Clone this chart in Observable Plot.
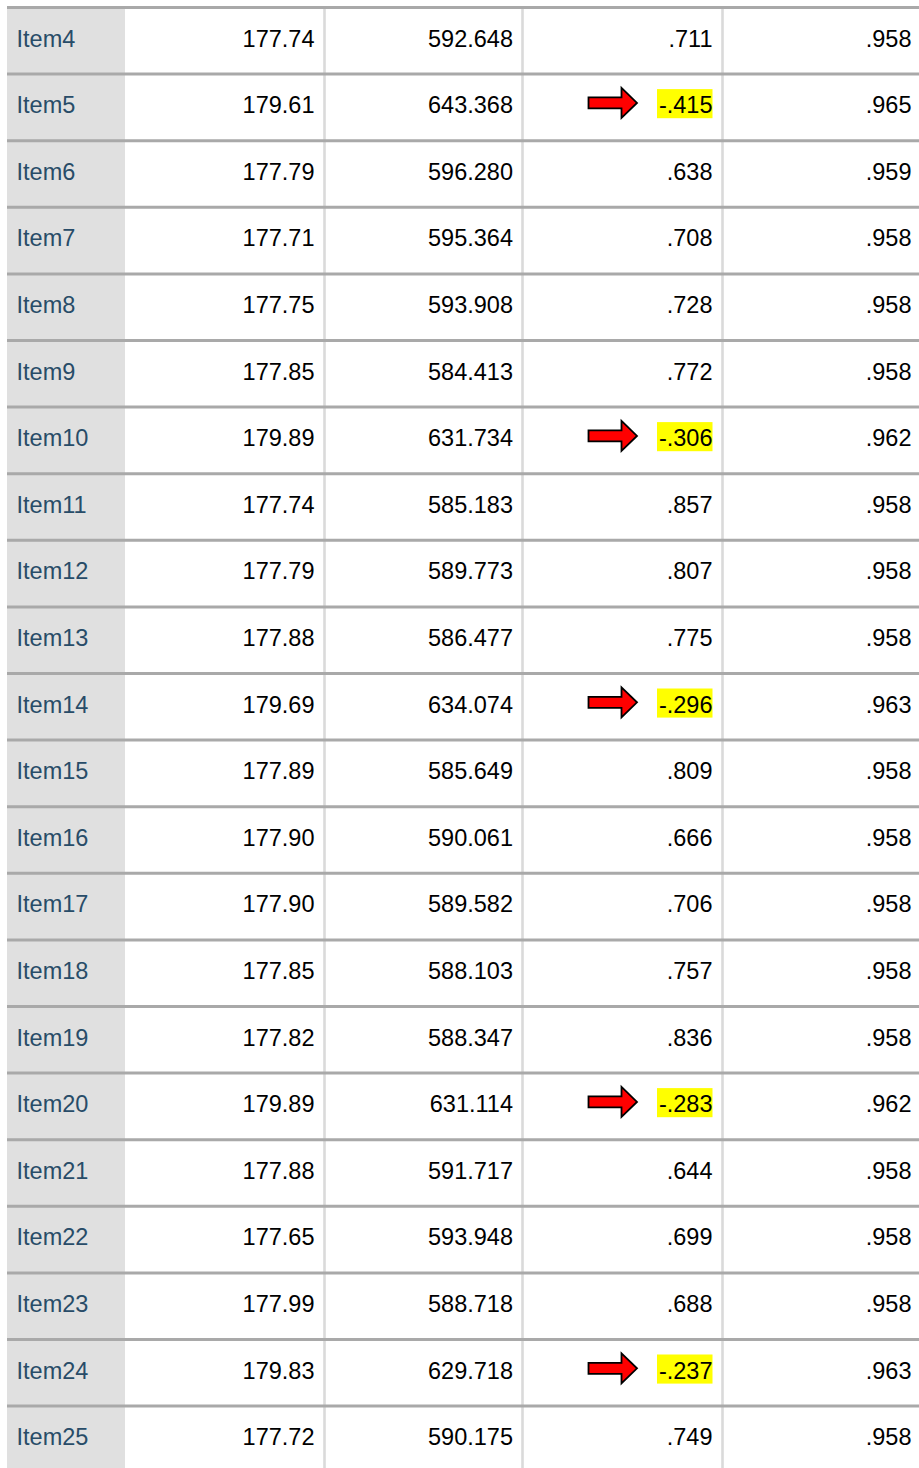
<!DOCTYPE html>
<html>
<head>
<meta charset="utf-8">
<script src="https://cdn.jsdelivr.net/npm/d3@7"></script>
<script src="https://cdn.jsdelivr.net/npm/@observablehq/plot@0.6"></script>
<style>
  html, body { margin: 0; padding: 0; background: #fff; }
  #chart svg { display: block; }
</style>
</head>
<body>
<div id="chart"></div>
<script>
// ---- data ----
const items = ["Item4","Item5","Item6","Item7","Item8","Item9","Item10","Item11","Item12","Item13","Item14","Item15","Item16","Item17","Item18","Item19","Item20","Item21","Item22","Item23","Item24","Item25"];
const scaleMeanIfDeleted = [177.74,179.61,177.79,177.71,177.75,177.85,179.89,177.74,177.79,177.88,179.69,177.89,177.90,177.90,177.85,177.82,179.89,177.88,177.65,177.99,179.83,177.72];
const scaleVarianceIfDeleted = [592.648,643.368,596.280,595.364,593.908,584.413,631.734,585.183,589.773,586.477,634.074,585.649,590.061,589.582,588.103,588.347,631.114,591.717,593.948,588.718,629.718,590.175];
const correctedItemTotal = [0.711,-0.415,0.638,0.708,0.728,0.772,-0.306,0.857,0.807,0.775,-0.296,0.809,0.666,0.706,0.757,0.836,-0.283,0.644,0.699,0.688,-0.237,0.749];
const alphaIfDeleted = [0.958,0.965,0.959,0.958,0.958,0.958,0.962,0.958,0.958,0.958,0.963,0.958,0.958,0.958,0.958,0.958,0.962,0.958,0.958,0.958,0.963,0.958];

// ---- layout ----
const W = 919, H = 1468;
const top0 = 7, rowH = 66.6;
const colLines = [324, 522, 722];
const colRight = [314, 512.5, 712, 911];
const labelX = 16;
const fontFamily = "'Liberation Sans', Arial, sans-serif";

const spss = v => v.toFixed(3).replace(/^(-?)0\./, "$1.");
const rows = items.map((name, i) => ({
  i, name,
  c1: scaleMeanIfDeleted[i].toFixed(2),
  c2: scaleVarianceIfDeleted[i].toFixed(3),
  c3: spss(correctedItemTotal[i]),
  c4: spss(alphaIfDeleted[i]),
  neg: correctedItemTotal[i] < 0
}));
const negRows = rows.filter(d => d.neg);

const arrowSymbol = {
  draw(ctx) {
    ctx.moveTo(-24, -5.5);
    ctx.lineTo(9, -5.5);
    ctx.lineTo(9, -15);
    ctx.lineTo(24.5, 0);
    ctx.lineTo(9, 15);
    ctx.lineTo(9, 5.5);
    ctx.lineTo(-24, 5.5);
    ctx.closePath();
  }
};

const textCommon = {fontSize: 23.5, fontFamily, dy: -1.8};

const chart = Plot.plot({
  width: W, height: H,
  margin: 0,
  style: {background: "#fff", fontFamily},
  x: {domain: [0, W], range: [0, W], axis: null},
  y: {domain: [0, items.length], range: [top0, top0 + rowH * items.length], axis: null},
  marks: [
    // label column background
    Plot.rect([0], {x1: 7, x2: 125, y1: 0, y2: items.length, fill: "#e0e0e0"}),
    // vertical column separators
    Plot.ruleX(colLines, {x: d => d, y1: 0, y2: items.length, stroke: "#dadada", strokeWidth: 2.6}),
    // horizontal row separators
    Plot.ruleY(rows, {y: "i", x1: 7, x2: W, stroke: "#a9a9a9", strokeWidth: 3}),
    // highlights for negative correlations
    Plot.rect(negRows, {x1: 657, x2: 712.5, y1: "i", y2: d => d.i + 1, insetTop: 15.5, insetBottom: 22, fill: "#ffff00"}),
    // arrows
    Plot.dot(negRows, {x: 612, y: d => d.i + 0.5, dy: -4.5, symbol: arrowSymbol, fill: "#ff0000", stroke: "#000", strokeWidth: 1.8}),
    // labels
    Plot.text(rows, {x: labelX, y: d => d.i + 0.5, text: "name", textAnchor: "start", fill: "#284c68", ...textCommon}),
    Plot.text(rows, {x: colRight[0], y: d => d.i + 0.5, text: "c1", textAnchor: "end", fill: "#000", ...textCommon}),
    Plot.text(rows, {x: colRight[1], y: d => d.i + 0.5, text: "c2", textAnchor: "end", fill: "#000", ...textCommon}),
    Plot.text(rows, {x: colRight[2], y: d => d.i + 0.5, text: "c3", textAnchor: "end", fill: "#000", ...textCommon}),
    Plot.text(rows, {x: colRight[3], y: d => d.i + 0.5, text: "c4", textAnchor: "end", fill: "#000", ...textCommon})
  ]
});
document.getElementById("chart").appendChild(chart);
</script>
</body>
</html>
